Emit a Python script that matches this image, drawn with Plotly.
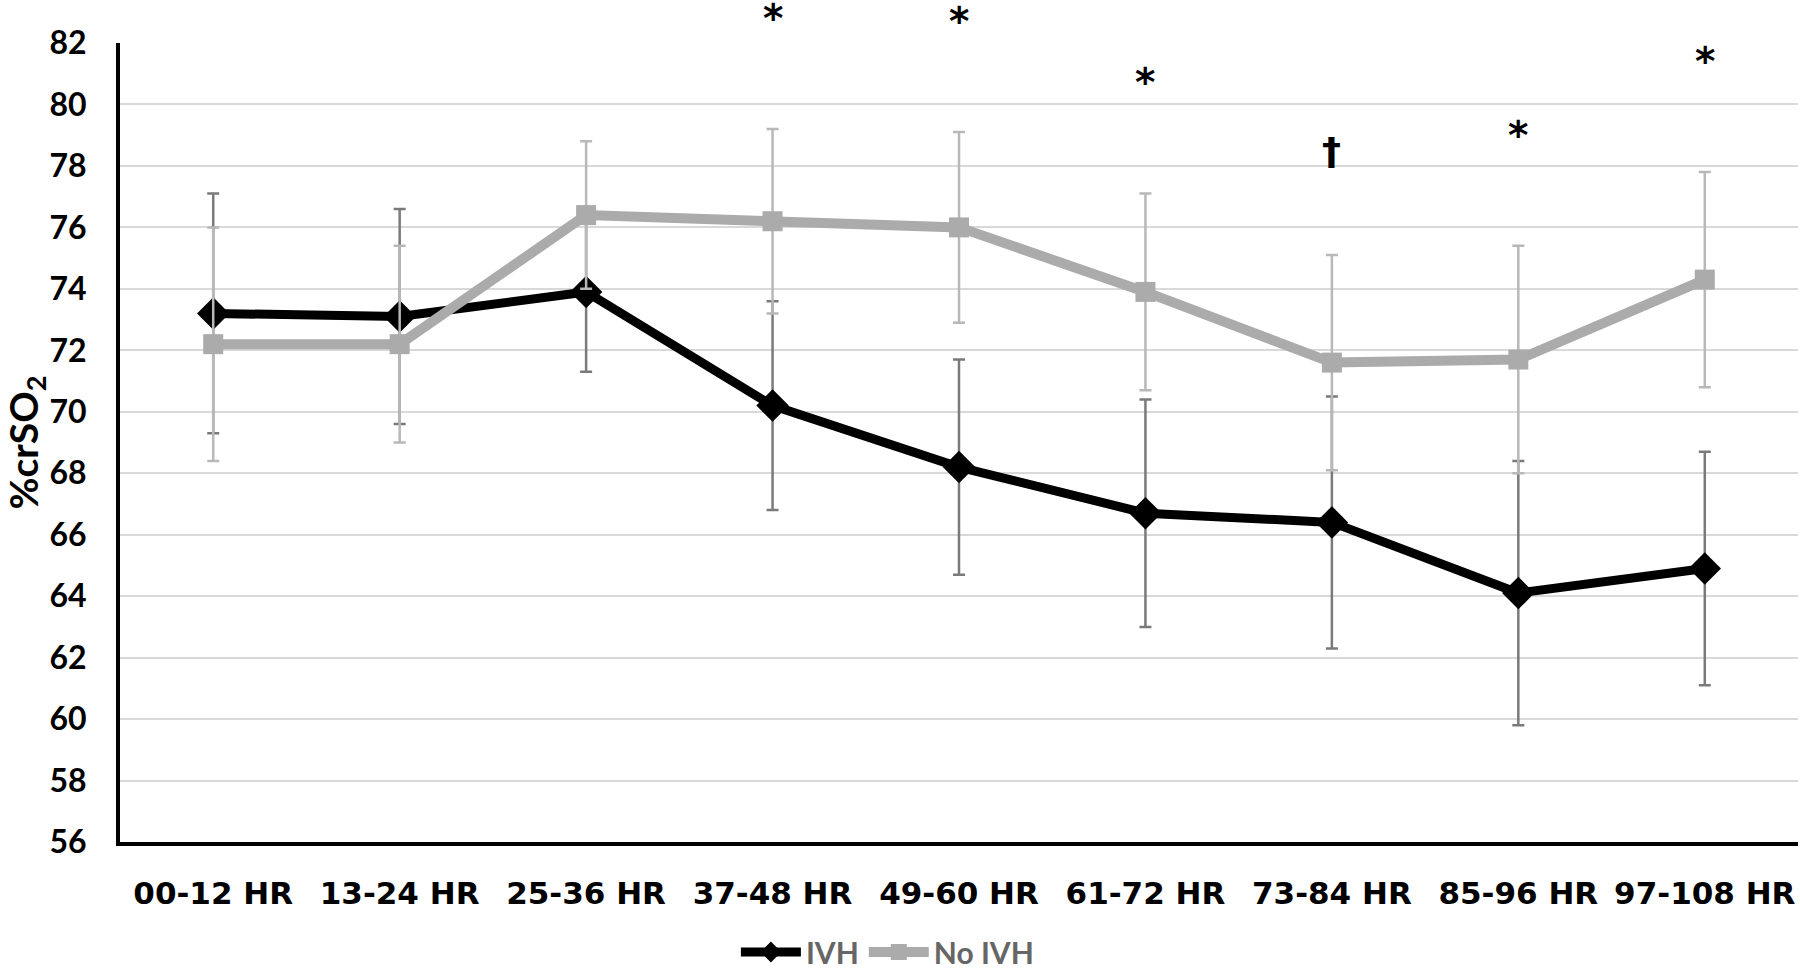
import plotly.graph_objects as go

categories = ["00-12 HR", "13-24 HR", "25-36 HR", "37-48 HR", "49-60 HR",
              "61-72 HR", "73-84 HR", "85-96 HR", "97-108 HR"]
ivh_mean = [73.2, 73.1, 73.9, 70.2, 68.2, 66.7, 66.4, 64.1, 64.9]
ivh_err = [3.9, 3.5, 2.6, 3.4, 3.5, 3.7, 4.1, 4.3, 3.8]
noivh_mean = [72.2, 72.2, 76.4, 76.2, 76.0, 73.9, 71.6, 71.7, 74.3]
noivh_err = [3.8, 3.2, 2.4, 3.0, 3.1, 3.2, 3.5, 3.7, 3.5]
sig_marks = ["", "", "", "*", "*", "*", "\u2020", "*", "*"]
y_min, y_max = 56, 82
y_ticks = list(range(y_min, y_max + 1, 2))

FONT = "Lato"
mark_size = {"*": 39, "\u2020": 38}
mark_gap = {"*": 3.6, "\u2020": 3.39}

fig = go.Figure()
fig.add_trace(go.Scatter(
    x=categories, y=ivh_mean, name="IVH", mode="lines+markers",
    line=dict(color="#000000", width=9),
    marker=dict(symbol="diamond", size=25, color="#000000"),
    error_y=dict(type="data", array=ivh_err, visible=True,
                 color="#7a7a7a", thickness=2.5, width=6),
))
fig.add_trace(go.Scatter(
    x=categories, y=noivh_mean, name="No IVH", mode="lines+markers",
    line=dict(color="#ababab", width=10),
    marker=dict(symbol="square", size=20, color="#ababab"),
    error_y=dict(type="data", array=noivh_err, visible=True,
                 color="#b8b8b8", thickness=2.5, width=6),
))

for cat, m, s, e in zip(categories, sig_marks, noivh_mean, noivh_err):
    if not m:
        continue
    fig.add_annotation(
        x=cat, y=(s + e + mark_gap[m] - y_min) / (y_max - y_min),
        text=m, showarrow=False,
        xref="x", yref="paper", yanchor="middle",
        font=dict(family="DejaVu Sans", size=mark_size[m], color="#000000",
                  weight="bold"),
    )

fig.update_layout(
    width=1800, height=974,
    margin=dict(l=120, r=2, t=43, b=132),
    paper_bgcolor="white", plot_bgcolor="white",
    showlegend=True,
    legend=dict(
        orientation="h", xref="container", yref="container",
        x=0.493, xanchor="center", y=0.0226, yanchor="middle",
        font=dict(family=FONT, size=30, color="#666666", weight="bold"),
        itemwidth=60, tracegroupgap=0,
    ),
    font=dict(family=FONT, color="#000000"),
)
fig.update_xaxes(
    type="category", range=[-0.5, 8.5],
    showline=True, linecolor="#000000", linewidth=4,
    showgrid=False, ticks="", ticklabelstandoff=21,
    tickfont=dict(family="DejaVu Sans", size=31, color="#000000",
                  weight="bold"),
)
fig.update_yaxes(
    range=[y_min, y_max], tickvals=y_ticks,
    showline=True, linecolor="#000000", linewidth=4,
    showgrid=True, gridcolor="#d9d9d9", gridwidth=1.5,
    zeroline=False, ticks="", ticklabelstandoff=23,
    tickfont=dict(family=FONT, size=32, color="#000000", weight="bold"),
    automargin=False,
    title=dict(text="%crSO<sub>2</sub>", standoff=5,
               font=dict(family=FONT, size=39, color="#000000", weight="bold")),
)

fig.write_html("out.html", config={"displayModeBar": False},
               post_script="document.body.style.margin='0px';")
